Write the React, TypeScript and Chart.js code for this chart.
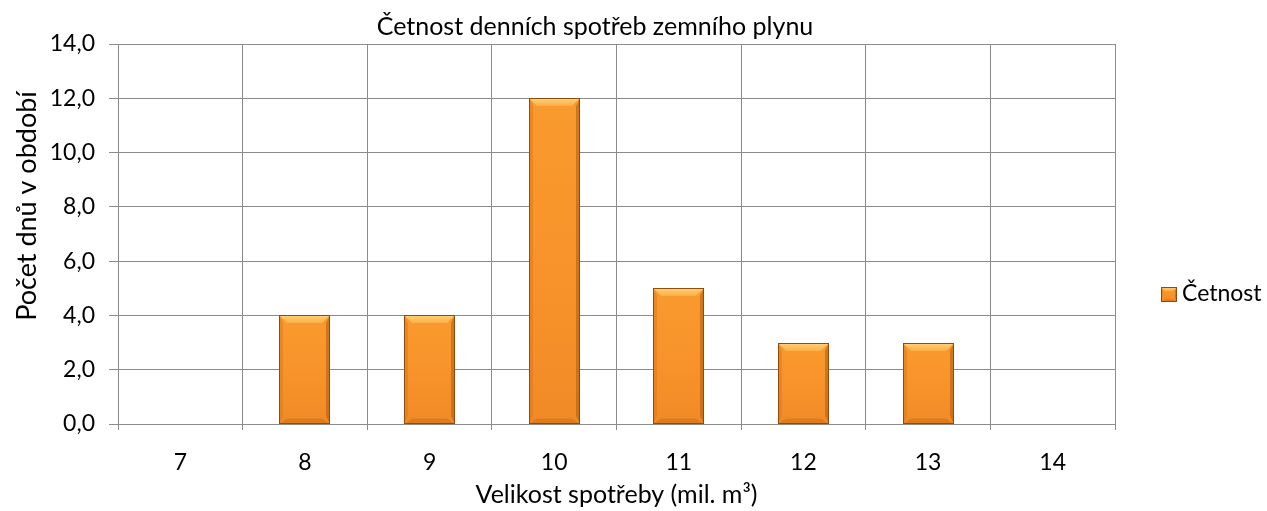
import React, { useEffect, useRef } from "react";
import { Chart, registerables } from "chart.js";

Chart.register(...registerables);

const categories = ["7", "8", "9", "10", "11", "12", "13", "14"];
const counts = [0, 4, 4, 12, 5, 3, 3, 0];
const seriesName = "Četnost";
const chartTitle = "Četnost denních spotřeb zemního plynu";
const xTitle = "Velikost spotřeby (mil. m³)";
const yTitle = "Počet dnů v období";
const yMin = 0;
const yMax = 14;
const yStep = 2;

const FONT = "Lato, 'Open Sans', sans-serif";

function drawBevelBox(ctx: CanvasRenderingContext2D, l: number, t: number, r: number, b: number, bevMax = 8) {
  const w = r - l;
  const h = b - t;
  if (w <= 0 || h <= 0) return;
  const bev = Math.min(bevMax, w / 4, h / 3);
  ctx.save();
  const g = ctx.createLinearGradient(0, t, 0, b);
  g.addColorStop(0, "#F99A2E");
  g.addColorStop(0.6, "#F7922A");
  g.addColorStop(1, "#F08A26");
  ctx.fillStyle = g;
  ctx.fillRect(l, t, w, h);
  const tg = ctx.createLinearGradient(0, t, 0, t + bev);
  tg.addColorStop(0, "#FFD27A");
  tg.addColorStop(1, "#FBAE45");
  ctx.fillStyle = tg;
  ctx.beginPath();
  ctx.moveTo(l, t);
  ctx.lineTo(r, t);
  ctx.lineTo(r - bev, t + bev);
  ctx.lineTo(l + bev, t + bev);
  ctx.closePath();
  ctx.fill();
  ctx.fillStyle = "rgba(215,115,25,0.45)";
  ctx.beginPath();
  ctx.moveTo(l, t);
  ctx.lineTo(l + bev * 0.5, t + bev);
  ctx.lineTo(l + bev * 0.5, b - bev);
  ctx.lineTo(l, b);
  ctx.closePath();
  ctx.fill();
  ctx.fillStyle = "rgba(170,85,10,0.5)";
  ctx.beginPath();
  ctx.moveTo(r, t);
  ctx.lineTo(r - bev * 0.5, t + bev);
  ctx.lineTo(r - bev * 0.5, b - bev);
  ctx.lineTo(r, b);
  ctx.closePath();
  ctx.fill();
  ctx.fillStyle = "rgba(200,100,15,0.4)";
  ctx.beginPath();
  ctx.moveTo(l, b);
  ctx.lineTo(r, b);
  ctx.lineTo(r - bev, b - bev * 0.7);
  ctx.lineTo(l + bev, b - bev * 0.7);
  ctx.closePath();
  ctx.fill();
  ctx.strokeStyle = "#8E4C0E";
  ctx.lineWidth = 1;
  ctx.strokeRect(l + 0.5, t + 0.5, w - 1, h - 1);
  ctx.restore();
}

const decorPlugin = {
  id: "decor",
  afterDatasetsDraw(chart: any) {
    const ctx = chart.ctx as CanvasRenderingContext2D;
    const meta = chart.getDatasetMeta(0);
    meta.data.forEach((el: any) => {
      const { x, y, base, width } = el.getProps(["x", "y", "base", "width"], true);
      const l = Math.round(x - width / 2);
      const r = Math.round(x + width / 2);
      const t = Math.round(Math.min(y, base));
      const b = Math.round(Math.max(y, base));
      if (b - t > 1) drawBevelBox(ctx, l, t, r, b);
    });
  },
  afterDraw(chart: any) {
    const ctx = chart.ctx as CanvasRenderingContext2D;
    ctx.save();
    ctx.fillStyle = "#000";
    ctx.font = `25px ${FONT}`;
    ctx.textAlign = "center";
    ctx.textBaseline = "middle";
    ctx.fillText(chartTitle, 595, 27);
    // y axis title
    ctx.save();
    ctx.translate(27, 206);
    ctx.rotate(-Math.PI / 2);
    ctx.font = `27px ${FONT}`;
    ctx.fillText(yTitle, 0, 0);
    ctx.restore();
    // legend
    drawBevelBox(ctx, 1161, 287, 1177, 302, 4);
    ctx.fillStyle = "#000";
    ctx.font = `23px ${FONT}`;
    ctx.textAlign = "left";
    ctx.fillText(seriesName, 1182, 294);
    ctx.restore();
  },
};

export default function App() {
  const ref = useRef<HTMLCanvasElement | null>(null);
  useEffect(() => {
    document.body.style.margin = "0";
    const canvas = ref.current!;
    const chart = new Chart(canvas, {
      type: "bar",
      data: {
        labels: categories,
        datasets: [
          {
            label: seriesName,
            data: counts,
            backgroundColor: "rgba(0,0,0,0)",
            borderWidth: 0,
            categoryPercentage: 1,
            barPercentage: 0.41,
          },
        ],
      },
      options: {
        animation: false,
        responsive: false,
        maintainAspectRatio: false,
        layout: { padding: { top: 44, right: 152, bottom: 0, left: 0 } },
        plugins: {
          legend: { display: false },
          title: { display: false },
          tooltip: { enabled: false },
        },
        scales: {
          x: {
            grid: {
              display: true,
              offset: true,
              color: "#8C8C8C",
              lineWidth: 1,
              drawTicks: true,
              tickLength: 6,
            },
            border: { display: true, color: "#8C8C8C", width: 1 },
            ticks: {
              color: "#000",
              font: { family: FONT, size: 23 },
              padding: 19,
              maxRotation: 0,
            },
            title: {
              display: true,
              text: xTitle,
              color: "#000",
              font: { family: FONT, size: 25 },
              padding: { top: 0, bottom: 1 },
            },
            afterFit: (s: any) => {
              s.height = 87;
            },
          },
          y: {
            min: yMin,
            max: yMax,
            grid: {
              color: "#8C8C8C",
              lineWidth: 1,
              drawTicks: true,
              tickLength: 9,
            },
            border: { display: true, color: "#8C8C8C", width: 1 },
            ticks: {
              stepSize: yStep,
              color: "#000",
              font: { family: FONT, size: 23 },
              padding: 14,
              callback: (v: any) => Number(v).toFixed(1).replace(".", ","),
            },
            title: { display: false },
            afterFit: (s: any) => {
              s.width = 118;
            },
          },
        },
      },
      plugins: [decorPlugin],
    });
    return () => chart.destroy();
  }, []);
  return (
    <div style={{ position: "fixed", left: 0, top: 0, width: 1267, height: 511, background: "#fff" }}>
      <canvas ref={ref} width={1267} height={511} style={{ width: 1267, height: 511 }} />
    </div>
  );
}
